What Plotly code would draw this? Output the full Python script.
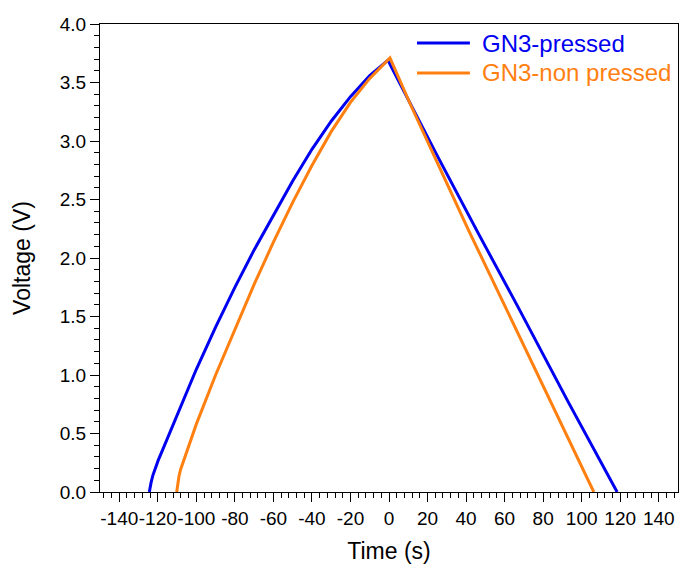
import plotly.graph_objects as go

# GN3-pressed (blue): charge then discharge
t_pressed = [-124.4, -124.1, -123.5, -122.6, -121.4, -119.8, -117.5, -115, -110, -100, -90, -80, -70, -60, -50, -40,
             -30, -20, -10, -0.5,
             1, 12, 25.5, 46.7, 67, 93, 118.4]
v_pressed = [0, 0.03, 0.08, 0.14, 0.20, 0.27, 0.36, 0.459, 0.66, 1.049, 1.409, 1.749, 2.069, 2.369, 2.659, 2.929,
             3.169, 3.379, 3.559, 3.692,
             3.64, 3.29, 2.86, 2.20, 1.58, 0.77, 0]

# GN3-non pressed (orange): charge then discharge
t_nonpressed = [-110.2, -110, -109.6, -109, -108.2, -107, -105.5, -103, -100, -90, -80, -70, -60, -50, -40, -30, -20,
                -10, 0.5,
                11.2, 23.5, 41.5, 59, 83, 106.3]
v_nonpressed = [0, 0.03, 0.08, 0.135, 0.19, 0.25, 0.32, 0.44, 0.58, 1.00, 1.395, 1.775, 2.135, 2.475, 2.79, 3.08, 3.33,
                3.535, 3.71,
                3.31, 2.87, 2.23, 1.63, 0.80, 0]

x_ticks = list(range(-140, 141, 20))
y_ticks = [0, 0.5, 1.0, 1.5, 2.0, 2.5, 3.0, 3.5, 4.0]

series_names = ["GN3-pressed", "GN3-non pressed"]

BLUE = "#0000F0"
ORANGE = "#FF8010"
FONT = "Liberation Sans, Arial, sans-serif"

fig = go.Figure()
fig.add_trace(go.Scatter(x=t_pressed, y=v_pressed, mode="lines",
                         line=dict(color=BLUE, width=3), name=series_names[0], showlegend=False))
fig.add_trace(go.Scatter(x=t_nonpressed, y=v_nonpressed, mode="lines",
                         line=dict(color=ORANGE, width=3), name=series_names[1], showlegend=False))

axis_common = dict(showline=True, linecolor="black", linewidth=1.3, mirror=True,
                   ticks="outside", ticklen=9, tickwidth=1.3, tickcolor="black",
                   showgrid=False, zeroline=False, automargin=False, tickangle=0,
                   tickfont=dict(family=FONT, size=19, color="black"))

fig.update_xaxes(range=[-150, 150], tickvals=x_ticks, ticktext=[str(v) for v in x_ticks],
                 minor=dict(ticks="outside", ticklen=5, tickwidth=1.2, tickcolor="black", dtick=4, tick0=0),
                 title=dict(text="Time (s)", font=dict(family=FONT, size=23, color="black"), standoff=19),
                 **axis_common)
fig.update_yaxes(range=[0, 4], tickvals=y_ticks, ticktext=[f"{v:.1f}" for v in y_ticks],
                 minor=dict(ticks="outside", ticklen=5, tickwidth=1.2, tickcolor="black", dtick=0.1, tick0=0),
                 title=dict(text="Voltage (V)", font=dict(family=FONT, size=23, color="black"), standoff=22),
                 **axis_common)

# Manual legend (line swatches + coloured labels)
legend_rows = [(0.9594, BLUE), (0.8953, ORANGE)]
for (yp, col), name in zip(legend_rows, series_names):
    fig.add_shape(type="line", xref="paper", yref="paper", x0=0.5484, x1=0.640, y0=yp, y1=yp,
                  line=dict(color=col, width=3))
    fig.add_annotation(xref="paper", yref="paper", x=0.6574, y=yp, xanchor="left", yanchor="middle",
                       text=name, showarrow=False, font=dict(family=FONT, size=24, color=col))

fig.update_layout(
    width=679, height=564,
    margin=dict(l=100, r=1, t=24, b=72),
    plot_bgcolor="white", paper_bgcolor="white",
    font=dict(family=FONT, size=19, color="black"),
    showlegend=False,
)

fig.write_html("out.html", config={"displayModeBar": False},
               post_script="document.body.style.margin='0px';document.body.style.overflow='hidden';")
